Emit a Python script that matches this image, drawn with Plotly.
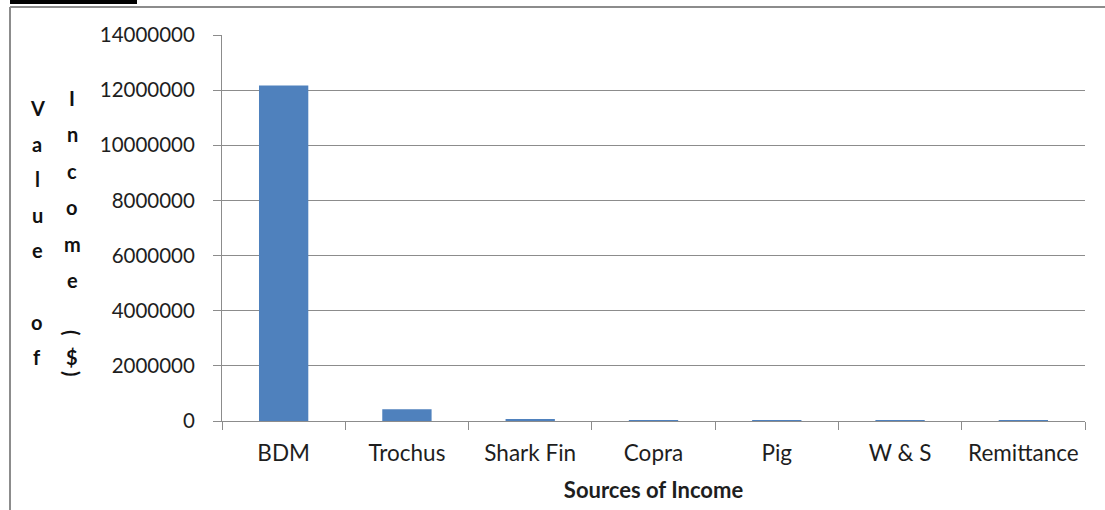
import plotly.graph_objects as go

# Income by source (value in $)
sources = ["BDM", "Trochus", "Shark Fin", "Copra", "Pig", "W & S", "Remittance"]
income_values = [12170000, 430000, 60000, 1500, 800, 500, 1000]
y_tick_values = [0, 2000000, 4000000, 6000000, 8000000, 10000000, 12000000, 14000000]
y_tick_labels = [str(v) for v in y_tick_values]

W, H = 1105, 510
L, R, T, B = 222, 20, 35, 89
PW, PH = W - L - R, H - T - B

FONT = "Lato"
TEXT = "#1e1e1e"
GRID = "#8c8c8c"


def px(xp):
    return (xp - L) / PW


def py(yp):
    return (H - B - yp) / PH


fig = go.Figure(
    go.Bar(
        x=sources,
        y=income_values,
        width=0.4,
        marker=dict(color="#4F81BD", line=dict(width=0)),
    )
)

fig.update_layout(
    width=W,
    height=H,
    margin=dict(l=L, r=R, t=T, b=B),
    paper_bgcolor="white",
    plot_bgcolor="white",
    showlegend=False,
    font=dict(family=FONT, size=20, color=TEXT),
)

fig.update_xaxes(
    type="category",
    tickson="boundaries",
    ticks="outside",
    ticklen=8,
    tickcolor=GRID,
    showline=True,
    linecolor=GRID,
    linewidth=1,
    showgrid=False,
    layer="above traces",
    ticklabelstandoff=12,
    tickfont=dict(size=22.5, color=TEXT),
    title=dict(text="<b>Sources of Income</b>", font=dict(size=22, color=TEXT), standoff=17),
)

fig.update_yaxes(
    range=[0, 14000000],
    tickvals=y_tick_values,
    ticktext=y_tick_labels,
    ticks="outside",
    ticklen=8,
    tickcolor=GRID,
    showline=True,
    linecolor=GRID,
    linewidth=1,
    showgrid=True,
    gridcolor=GRID,
    gridwidth=1,
    zeroline=False,
    ticklabelstandoff=14,
    tickfont=dict(size=20.5, color=TEXT),
)

# Stacked vertical axis title, one letter per row in two columns
LETTER_FONT = dict(size=20, color="#111")
annotations = []
col1 = ["V", "a", "l", "u", "e", "", "o", "f"]
for i, ch in enumerate(col1):
    if ch:
        annotations.append(dict(
            x=px(37), y=py(108 + i * 35.6), xref="paper", yref="paper",
            text=f"<b>{ch}</b>", showarrow=False, xanchor="center", yanchor="middle",
            font=LETTER_FONT,
        ))
col2 = ["I", "n", "c", "o", "m", "e"]
for i, ch in enumerate(col2):
    annotations.append(dict(
        x=px(72), y=py(98 + i * 36.4), xref="paper", yref="paper",
        text=f"<b>{ch}</b>", showarrow=False, xanchor="center", yanchor="middle",
        font=LETTER_FONT,
    ))
for ch, ypos, ang in [("(", 333, 90), ("$", 357, 0), (")", 374, 90)]:
    annotations.append(dict(
        x=px(72), y=py(ypos), xref="paper", yref="paper",
        text=f"<b>{ch}</b>", showarrow=False, xanchor="center", yanchor="middle",
        textangle=ang, font=LETTER_FONT,
    ))
fig.update_layout(annotations=annotations)

# Chart frame and caption underline
fig.update_layout(shapes=[
    dict(type="line", xref="paper", yref="paper",
         x0=px(10), x1=px(10), y0=py(7), y1=py(H + 5),
         line=dict(color="#8c8c8c", width=2)),
    dict(type="line", xref="paper", yref="paper",
         x0=px(10), x1=px(W + 5), y0=py(7), y1=py(7),
         line=dict(color="#8c8c8c", width=2)),
    dict(type="rect", xref="paper", yref="paper",
         x0=px(10), x1=px(137), y0=py(0), y1=py(4),
         fillcolor="black", line=dict(width=0)),
])

fig.write_html("out.html")
